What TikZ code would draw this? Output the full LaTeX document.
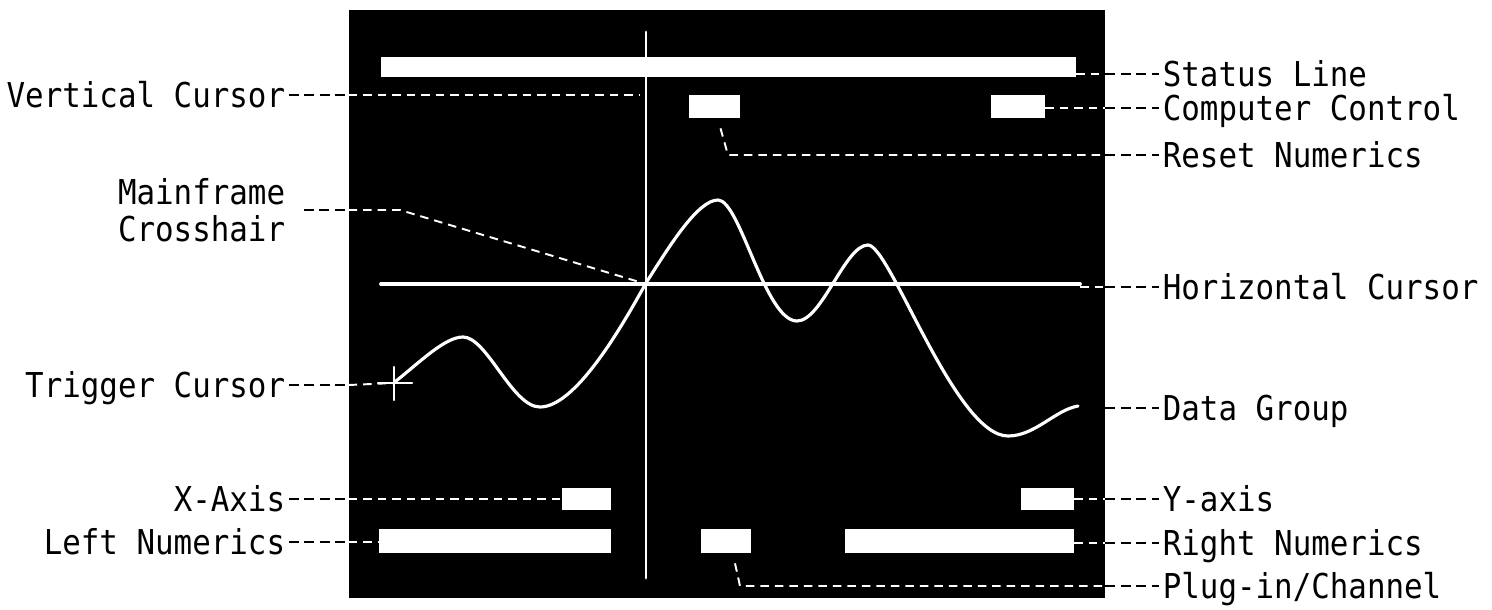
\documentclass[tikz,border=0pt]{standalone}
\usepackage{fontspec}
\newfontfamily\tagface{DejaVu Sans Mono}[FakeStretch=0.9]

\begin{document}
\begin{tikzpicture}[x=0.02cm,y=-0.02cm,
    tagtext/.style={inner xsep=2pt,inner ysep=0pt,
      font=\fontsize{19.5}{21}\selectfont\tagface},
    callout/.style={tagtext,text height=0.56cm,text depth=0.08cm},
    readout/.style={fill=white,inner sep=0pt},
    leadout/.style={black,line width=1.6pt,dash pattern=on 0.2cm off 0.11cm},
    leadin/.style={white,line width=1.1pt,dash pattern=on 0.17cm off 0.12cm},
    beam/.style={white,line width=1.7pt,line cap=round}]
    \useasboundingbox (0,0) rectangle (1492,609);
    \node[fill=black,inner sep=0pt,minimum width=15.12cm,
      minimum height=11.76cm] (screen) at (727,304) {};

    % readout blocks
    \node[readout,minimum width=13.9cm,minimum height=0.4cm] (statusbar) at (728.5,67) {};
    \node[readout,minimum width=1.02cm,minimum height=0.46cm] (resetbox) at (714.5,106.5) {};
    \node[readout,minimum width=1.08cm,minimum height=0.46cm] (compbox) at (1018,106.5) {};
    \node[readout,minimum width=0.98cm,minimum height=0.44cm] (xaxisbox) at (586.5,499) {};
    \node[readout,minimum width=1.06cm,minimum height=0.44cm] (yaxisbox) at (1047.5,499) {};
    \node[readout,minimum width=4.64cm,minimum height=0.48cm] (leftnum) at (495,541) {};
    \node[readout,minimum width=1.0cm,minimum height=0.48cm] (plugbox) at (726,541) {};
    \node[readout,minimum width=4.58cm,minimum height=0.48cm] (rightnum) at (959.5,541) {};

    % cursors and trace
    \coordinate (xhair) at (646,284);
    \coordinate (vcur) at (640,95);
    \coordinate (hend) at (1080,284);
    \coordinate (trig) at (394,383);
    \coordinate (dataend) at (1078,406);
    \draw[beam] (646,32) -- (646,578);
    \draw[beam,line width=2.2pt] (381,284) -- (hend);
    \draw[beam,line width=1.2pt] (trig) ++(-16,0) -- ++(34,0);
    \draw[beam,line width=1.2pt] (trig) ++(0,-16) -- ++(0,33);
    \draw[beam,line width=1.8pt,line join=round] (396,381)
      .. controls (420,362) and (445,337) .. (463,337)
      .. controls (487,337) and (512,407) .. (540,407)
      .. controls (575,407) and (620,330) .. (646,283)
      .. controls (670,245) and (698,200) .. (718,200)
      .. controls (740,200) and (765,321) .. (797,321)
      .. controls (822,321) and (845,245) .. (868,245)
      .. controls (890,245) and (955,436) .. (1008,436)
      .. controls (1035,436) and (1055,410) .. (dataend);

    % labels on the right
    \node[callout,anchor=west] (lstatus) at (1159,74) {Status Line};
    \node[callout,anchor=west] (lcomp) at (1159,108) {Computer Control};
    \node[callout,anchor=west] (lreset) at (1159,155) {Reset Numerics};
    \node[callout,anchor=west] (lhor) at (1159,287) {Horizontal Cursor};
    \node[callout,anchor=west] (ldata) at (1159,408) {Data Group};
    \node[callout,anchor=west] (lyaxis) at (1159,499) {Y-axis};
    \node[callout,anchor=west] (lrnum) at (1159,543) {Right Numerics};
    \node[callout,anchor=west] (lplug) at (1159,586) {Plug-in/Channel};

    % labels on the left
    \node[callout,anchor=east] (lvert) at (289,95) {Vertical Cursor};
    \node[tagtext,align=center,anchor=east] (lmain) at (289,210) {Mainframe\\Crosshair};
    \node[callout,anchor=east] (ltrig) at (289,385) {Trigger Cursor};
    \node[callout,anchor=east] (lxaxis) at (289,499) {X-Axis};
    \node[callout,anchor=east] (llnum) at (289,542) {Left Numerics};

    % leaders, right
    \coordinate (rkink) at (728,155);
    \coordinate (pkink) at (740,586);
    \draw[leadin] (statusbar.east |- lstatus.west) -- (lstatus.west -| screen.east);
    \draw[leadout] (lstatus.west -| screen.east) -- (lstatus.west);
    \draw[leadin] (compbox.east |- lcomp.west) -- (lcomp.west -| screen.east);
    \draw[leadout] (lcomp.west -| screen.east) -- (lcomp.west);
    \draw[leadin] ([shift={(6,10)}]resetbox.south) -- (rkink) -- (lreset.west -| screen.east);
    \draw[leadout] (lreset.west -| screen.east) -- (lreset.west);
    \draw[leadin] (hend |- lhor.west) -- (lhor.west -| screen.east);
    \draw[leadout] (lhor.west -| screen.east) -- (lhor.west);
    \draw[leadout] (ldata.west -| screen.east) -- (ldata.west);
    \draw[leadin] (yaxisbox.east) -- (lyaxis.west -| screen.east);
    \draw[leadout] (lyaxis.west -| screen.east) -- (lyaxis.west);
    \draw[leadin] (rightnum.east |- lrnum.west) -- (lrnum.west -| screen.east);
    \draw[leadout] (lrnum.west -| screen.east) -- (lrnum.west);
    \draw[leadin] ([shift={(9,10)}]plugbox.south) -- (pkink) -- (lplug.west -| screen.east);
    \draw[leadout] (lplug.west -| screen.east) -- (lplug.west);

    % leaders, left
    \coordinate (mkink) at (400,210);
    \draw[leadout] (lvert.east) -- (lvert.east -| screen.west);
    \draw[leadin] (lvert.east -| screen.west) -- (vcur);
    \draw[leadout] ([xshift=0.3cm]lmain.east) -- (lmain.east -| screen.west);
    \draw[leadin] (lmain.east -| screen.west) -- (mkink) -- (xhair);
    \draw[leadout] (ltrig.east) -- (ltrig.east -| screen.west);
    \draw[leadin] (ltrig.east -| screen.west) -- (trig);
    \draw[leadout] (lxaxis.east) -- (lxaxis.east -| screen.west);
    \draw[leadin] (lxaxis.east -| screen.west) -- (xaxisbox.west);
    \draw[leadout] (llnum.east) -- (llnum.east -| screen.west);
    \draw[leadin] (llnum.east -| screen.west) -- (leftnum.west |- llnum.east);
\end{tikzpicture}
\end{document}
